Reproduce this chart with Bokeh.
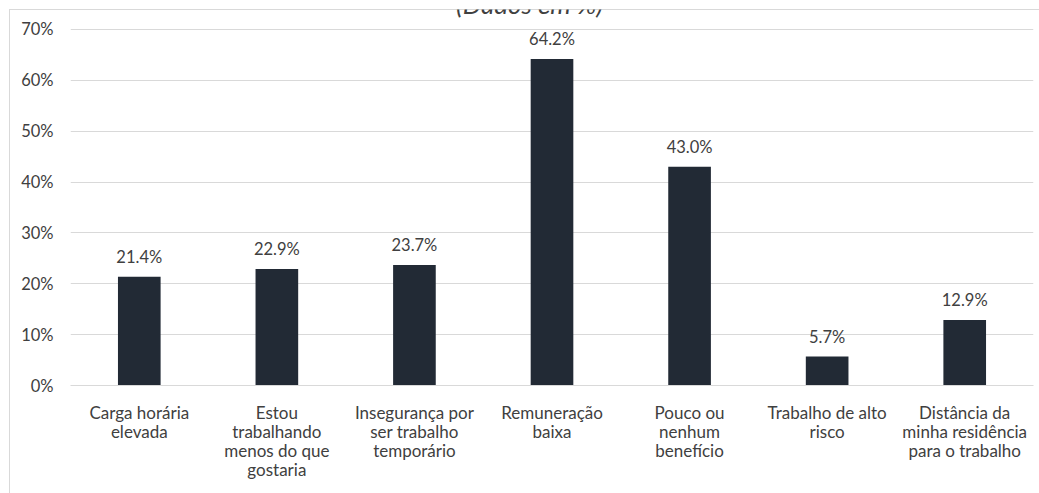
from bokeh.plotting import figure
from bokeh.models import ColumnDataSource, FactorRange, Range1d, Label, FixedTicker
from bokeh.core.properties import value
from bokeh.embed import file_html
from bokeh.resources import INLINE

categories = [
    "Carga horária\nelevada",
    "Estou\ntrabalhando\nmenos do que\ngostaria",
    "Insegurança por\nser trabalho\ntemporário",
    "Remuneração\nbaixa",
    "Pouco ou\nnenhum\nbenefício",
    "Trabalho de alto\nrisco",
    "Distância da\nminha residência\npara o trabalho",
]
values = [21.4, 22.9, 23.7, 64.2, 43.0, 5.7, 12.9]
tick_values = [0, 10, 20, 30, 40, 50, 60, 70]
tick_labels = ["0%", "10%", "20%", "30%", "40%", "50%", "60%", "70%"]
title_text = "(Dados em %)"

FONT = "Lato"
TXT = "#404040"
FS = "16.5px"

src = ColumnDataSource(dict(cat=categories, val=values,
                            lab=[f"{v:.1f}%" for v in values]))

p = figure(width=1039, height=493, output_backend="svg", toolbar_location=None,
           x_range=FactorRange(*categories), y_range=Range1d(0, 73.93),
           min_border_left=70, min_border_right=6, min_border_top=9, min_border_bottom=108)
p.outline_line_color = None
p.background_fill_color = None
p.border_fill_color = None
# chart-area border of the original picture (left and top edges, 9px in)
p.styles = {
    "background": ("linear-gradient(#d9d9d9, #d9d9d9) 9px 9px / 1px 100% no-repeat, "
                   "linear-gradient(#d9d9d9, #d9d9d9) 9px 9px / 100% 1px no-repeat, white"),
}

p.vbar(x="cat", top="val", width=0.31, source=src, fill_color="#222a35", line_color=None)
p.text(x="cat", y="val", text="lab", source=src, text_align="center", text_baseline="alphabetic",
       y_offset=-20, text_font=value(FONT), text_font_size=FS, text_color=TXT)

p.xgrid.grid_line_color = None
p.ygrid.grid_line_color = "#d9d9d9"
p.ygrid.ticker = FixedTicker(ticks=tick_values)

p.yaxis.ticker = FixedTicker(ticks=tick_values)
p.yaxis.major_label_overrides = {v: l for v, l in zip(tick_values, tick_labels)}
p.yaxis.axis_line_color = None
p.yaxis.major_tick_line_color = None
p.yaxis.minor_tick_line_color = None
p.yaxis.major_label_standoff = 11
p.yaxis.major_label_text_font = FONT
p.yaxis.major_label_text_font_size = FS
p.yaxis.major_label_text_color = TXT

p.xaxis.axis_line_color = "#d9d9d9"
p.xaxis.major_tick_line_color = None
p.xaxis.minor_tick_line_color = None
p.xaxis.major_label_standoff = 10
p.xaxis.major_label_text_font = FONT
p.xaxis.major_label_text_font_size = "17px"
p.xaxis.major_label_text_color = TXT
p.xaxis.major_label_text_line_height = 0.91

t = Label(x=3.336, y=75.01, text=title_text, text_align="center", text_baseline="alphabetic",
          text_font=FONT, text_font_style="italic", text_font_size="26px", text_color=TXT)
p.add_layout(t)

open("out.html", "w").write(file_html(p, INLINE))
